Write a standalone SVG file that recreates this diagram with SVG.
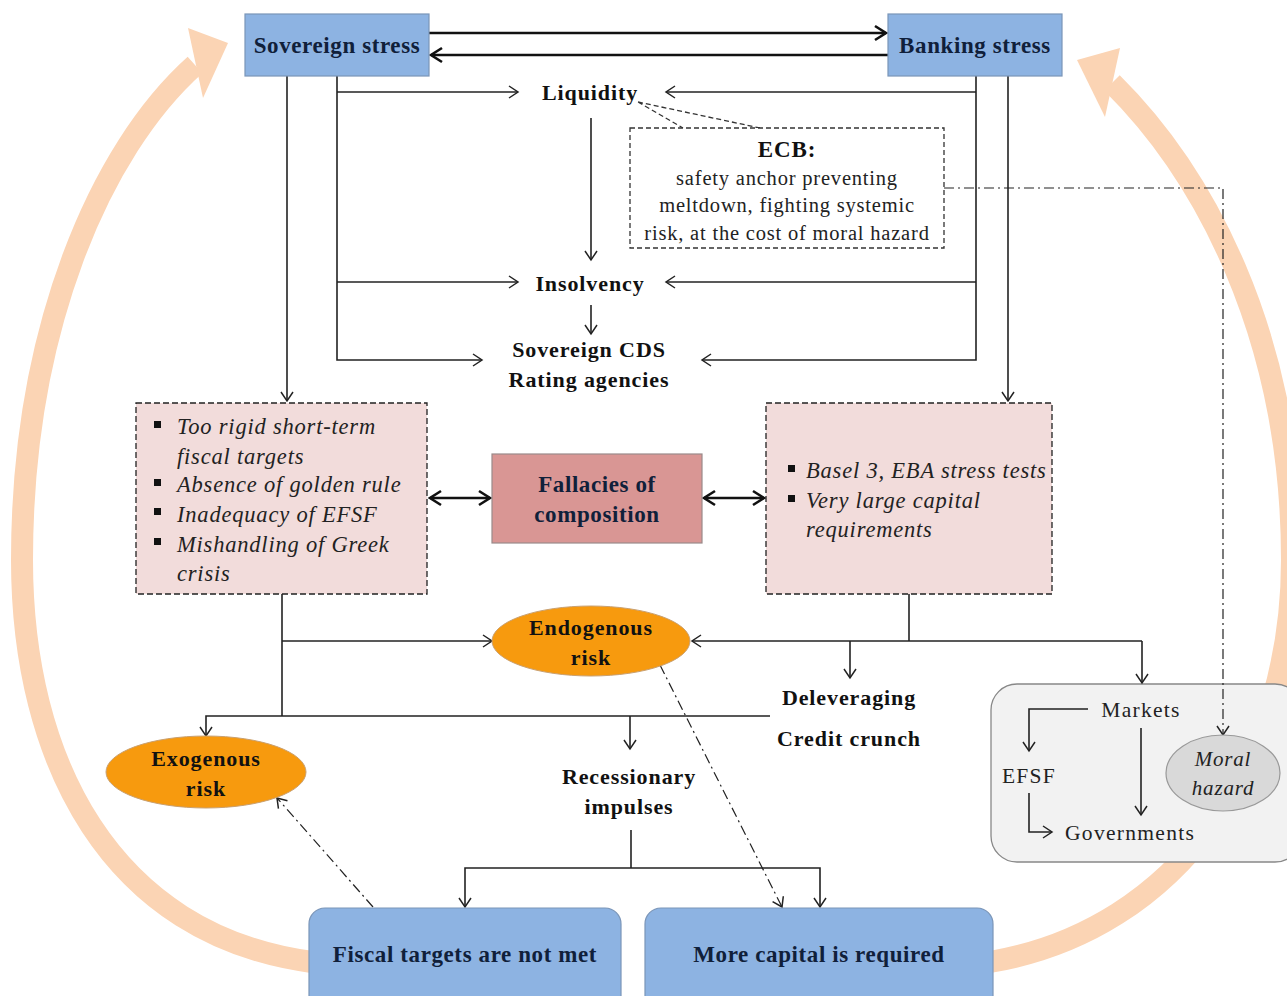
<svg xmlns="http://www.w3.org/2000/svg" width="1287" height="996" viewBox="0 0 1287 996">
  <defs>
    <marker id="open" markerUnits="userSpaceOnUse" markerWidth="14" markerHeight="14" refX="11" refY="7" orient="auto">
      <path d="M2,1 L11,7 L2,13" fill="none" stroke="#222" stroke-width="1.5"/>
    </marker>
    <marker id="openBold" markerUnits="userSpaceOnUse" markerWidth="16" markerHeight="18" refX="13" refY="9" orient="auto">
      <path d="M2,2 L13,9 L2,16" fill="none" stroke="#111" stroke-width="2.6"/>
    </marker>
    <marker id="openBoldStart" markerUnits="userSpaceOnUse" markerWidth="16" markerHeight="18" refX="3" refY="9" orient="auto">
      <path d="M14,2 L3,9 L14,16" fill="none" stroke="#111" stroke-width="2.6"/>
    </marker>
  </defs>
  <style>
    .line { fill: none; stroke: #222; stroke-width: 1.6; }
    .bold { fill: none; stroke: #111; stroke-width: 2.6; }
    .dashdot { fill: none; stroke: #222; stroke-width: 1.2; stroke-dasharray: 10 4 2 4; }
    .dashed { fill: none; stroke: #333; stroke-width: 1.3; stroke-dasharray: 5 3; }
    .blue { fill: #8DB3E2; stroke: #7a95b8; stroke-width: 1.2; }
    .pink { fill: #F2DCDB; stroke: #222; stroke-width: 1.3; stroke-dasharray: 6 3; }
    .rose { fill: #D99694; stroke: #9a8a8a; stroke-width: 1.2; }
    .orange { fill: #F79A0E; stroke: #c9a070; stroke-width: 1; }
    .bigarc { fill: none; stroke: #FBD4B4; stroke-width: 22; }
    .t { font-family: "Liberation Serif", serif; font-weight: bold; font-size: 22px; letter-spacing: 0.9px; fill: #111; text-anchor: middle; }
    .tb { font-family: "Liberation Serif", serif; font-weight: bold; font-size: 23px; letter-spacing: 0.6px; fill: #10203a; text-anchor: middle; }
    .r { font-family: "Liberation Serif", serif; font-size: 20.5px; letter-spacing: 0.8px; fill: #222; text-anchor: middle; }
    .it { font-family: "Liberation Serif", serif; font-style: italic; font-size: 22.5px; letter-spacing: 0.8px; fill: #222; }
    .m { font-family: "Liberation Serif", serif; font-size: 21.5px; letter-spacing: 1.3px; fill: #222; }
  </style>

  <!-- large feedback arcs -->
  <g id="feedback-arcs">
    <path class="bigarc" d="M 312 962 C 110 935 22 760 22 560 C 22 330 100 150 195 65"/>
    <polygon points="228,43 188,28 203,98" fill="#FBD4B4"/>
    <path class="bigarc" d="M 990 962 C 1180 930 1292 760 1292 560 C 1292 330 1200 170 1112 83"/>
    <polygon points="1077,60 1120,48 1105,117" fill="#FBD4B4"/>
  </g>

  <!-- market mechanics panel (drawn under the connectors) -->
  <g id="markets-box">
    <rect x="991" y="684" width="310" height="178" rx="26" fill="#F2F2F2" stroke="#888" stroke-width="1.3"/>
    <text class="m" x="1141" y="717" text-anchor="middle">Markets</text>
    <path class="line" d="M 1088 709 H 1029 V 751" marker-end="url(#open)"/>
    <text class="m" x="1029" y="783" text-anchor="middle">EFSF</text>
    <path class="line" d="M 1029 793 V 832 H 1052" marker-end="url(#open)"/>
    <path class="line" d="M 1141 728 V 815" marker-end="url(#open)"/>
    <text class="m" x="1065" y="840">Governments</text>
  </g>

  <!-- connectors -->
  <g id="connectors">
    <!-- sovereign <-> banking -->
    <line class="bold" x1="429" y1="33" x2="886" y2="33" marker-end="url(#openBold)"/>
    <line class="bold" x1="888" y1="55" x2="431" y2="55" marker-end="url(#openBold)"/>

    <!-- sovereign stress branches -->
    <path class="line" d="M 287 76 V 401" marker-end="url(#open)"/>
    <path class="line" d="M 337 76 V 360 H 482" marker-end="url(#open)"/>
    <path class="line" d="M 337 92 H 518" marker-end="url(#open)"/>
    <path class="line" d="M 337 282 H 518" marker-end="url(#open)"/>

    <!-- banking stress branches -->
    <path class="line" d="M 976 76 V 360 H 702" marker-end="url(#open)"/>
    <path class="line" d="M 976 92 H 666" marker-end="url(#open)"/>
    <path class="line" d="M 976 282 H 666" marker-end="url(#open)"/>
    <path class="line" d="M 1008 76 V 401" marker-end="url(#open)"/>

    <!-- vertical chain -->
    <path class="line" d="M 591 118 V 260" marker-end="url(#open)"/>
    <path class="line" d="M 591 305 V 334" marker-end="url(#open)"/>

    <!-- ECB callout -->
    <path class="dashed" d="M 638 102 L 683 128 M 638 102 L 760 128"/>

    <!-- ECB to moral hazard -->
    <path class="dashdot" d="M 944 188 H 1223 V 735" marker-end="url(#open)"/>

    <!-- fallacies double arrows -->
    <line class="bold" x1="430" y1="498" x2="490" y2="498" marker-start="url(#openBoldStart)" marker-end="url(#openBold)"/>
    <line class="bold" x1="704" y1="498" x2="764" y2="498" marker-start="url(#openBoldStart)" marker-end="url(#openBold)"/>

    <!-- left box outputs -->
    <path class="line" d="M 282 594 V 716"/>
    <path class="line" d="M 282 641 H 492" marker-end="url(#open)"/>
    <path class="line" d="M 770 716 H 206 V 736" marker-end="url(#open)"/>
    <path class="line" d="M 630 716 V 749" marker-end="url(#open)"/>

    <!-- right box outputs -->
    <path class="line" d="M 909 594 V 641"/>
    <path class="line" d="M 1142 641 H 692" marker-end="url(#open)"/>
    <path class="line" d="M 850 641 V 678" marker-end="url(#open)"/>
    <path class="line" d="M 1142 641 V 683" marker-end="url(#open)"/>

    <!-- recessionary impulses to outcomes -->
    <path class="line" d="M 631 830 V 868"/>
    <path class="line" d="M 631 868 H 465 V 907" marker-end="url(#open)"/>
    <path class="line" d="M 631 868 H 820 V 907" marker-end="url(#open)"/>

    <!-- dash-dot feedbacks -->
    <path class="dashdot" d="M 660 665 L 782 907" marker-end="url(#open)"/>
    <path class="dashdot" d="M 373 907 L 277 798" marker-end="url(#open)"/>
  </g>

  <g id="moral-hazard">
    <ellipse cx="1223" cy="773" rx="57" ry="38" fill="#D9D9D9" stroke="#999" stroke-width="1.2"/>
    <text class="it" x="1223" y="766" text-anchor="middle" style="font-size:21px">Moral</text>
    <text class="it" x="1223" y="795" text-anchor="middle" style="font-size:21px">hazard</text>
  </g>

  <g id="sovereign-stress">
    <rect class="blue" x="245" y="14" width="184" height="62"/>
    <text class="tb" x="337" y="53">Sovereign stress</text>
  </g>

  <g id="banking-stress">
    <rect class="blue" x="888" y="14" width="174" height="62"/>
    <text class="tb" x="975" y="53">Banking stress</text>
  </g>

  <g id="liquidity">
    <text class="t" x="590" y="100">Liquidity</text>
  </g>

  <g id="ecb">
    <rect x="630" y="128" width="314" height="120" fill="#fff" stroke="#333" stroke-width="1.3" stroke-dasharray="5 3"/>
    <text class="t" x="787" y="157" style="font-size:23px">ECB:</text>
    <text class="r" x="787" y="185">safety anchor preventing</text>
    <text class="r" x="787" y="212">meltdown, fighting systemic</text>
    <text class="r" x="787" y="240">risk, at the cost of moral  hazard</text>
  </g>

  <g id="insolvency">
    <text class="t" x="590" y="291">Insolvency</text>
  </g>

  <g id="sovereign-cds">
    <text class="t" x="589" y="357">Sovereign CDS</text>
    <text class="t" x="589" y="387">Rating agencies</text>
  </g>

  <g id="fiscal-policy-box">
    <rect class="pink" x="136" y="403" width="291" height="191"/>
    <g fill="#111">
      <rect x="154" y="421" width="7" height="7"/>
      <rect x="154" y="479" width="7" height="7"/>
      <rect x="154" y="508" width="7" height="7"/>
      <rect x="154" y="538" width="7" height="7"/>
    </g>
    <text class="it" x="177" y="434">Too rigid short-term</text>
    <text class="it" x="177" y="464">fiscal targets</text>
    <text class="it" x="177" y="492">Absence of golden rule</text>
    <text class="it" x="177" y="522">Inadequacy of EFSF</text>
    <text class="it" x="177" y="552">Mishandling of Greek</text>
    <text class="it" x="177" y="581">crisis</text>
  </g>

  <g id="fallacies">
    <rect class="rose" x="492" y="454" width="210" height="89"/>
    <text class="tb" x="597" y="492">Fallacies of</text>
    <text class="tb" x="597" y="522">composition</text>
  </g>

  <g id="banking-policy-box">
    <rect class="pink" x="766" y="403" width="286" height="191"/>
    <g fill="#111">
      <rect x="788" y="465" width="7" height="7"/>
      <rect x="788" y="495" width="7" height="7"/>
    </g>
    <text class="it" x="806" y="478">Basel 3, EBA  stress tests</text>
    <text class="it" x="806" y="508">Very large capital</text>
    <text class="it" x="806" y="537">requirements</text>
  </g>

  <g id="endogenous-risk">
    <ellipse class="orange" cx="591" cy="641" rx="99" ry="35"/>
    <text class="t" x="591" y="635">Endogenous</text>
    <text class="t" x="591" y="665">risk</text>
  </g>

  <g id="deleveraging">
    <text class="t" x="849" y="705">Deleveraging</text>
    <text class="t" x="849" y="746">Credit crunch</text>
  </g>

  <g id="exogenous-risk">
    <ellipse class="orange" cx="206" cy="772" rx="100" ry="36"/>
    <text class="t" x="206" y="766">Exogenous</text>
    <text class="t" x="206" y="796">risk</text>
  </g>

  <g id="recessionary-impulses">
    <text class="t" x="629" y="784">Recessionary</text>
    <text class="t" x="629" y="814">impulses</text>
  </g>

  <g id="fiscal-targets">
    <rect class="blue" x="309" y="908" width="312" height="110" rx="16"/>
    <text class="tb" x="465" y="962">Fiscal targets are not met</text>
  </g>

  <g id="more-capital">
    <rect class="blue" x="645" y="908" width="348" height="110" rx="16"/>
    <text class="tb" x="819" y="962">More capital is required</text>
  </g>
</svg>
